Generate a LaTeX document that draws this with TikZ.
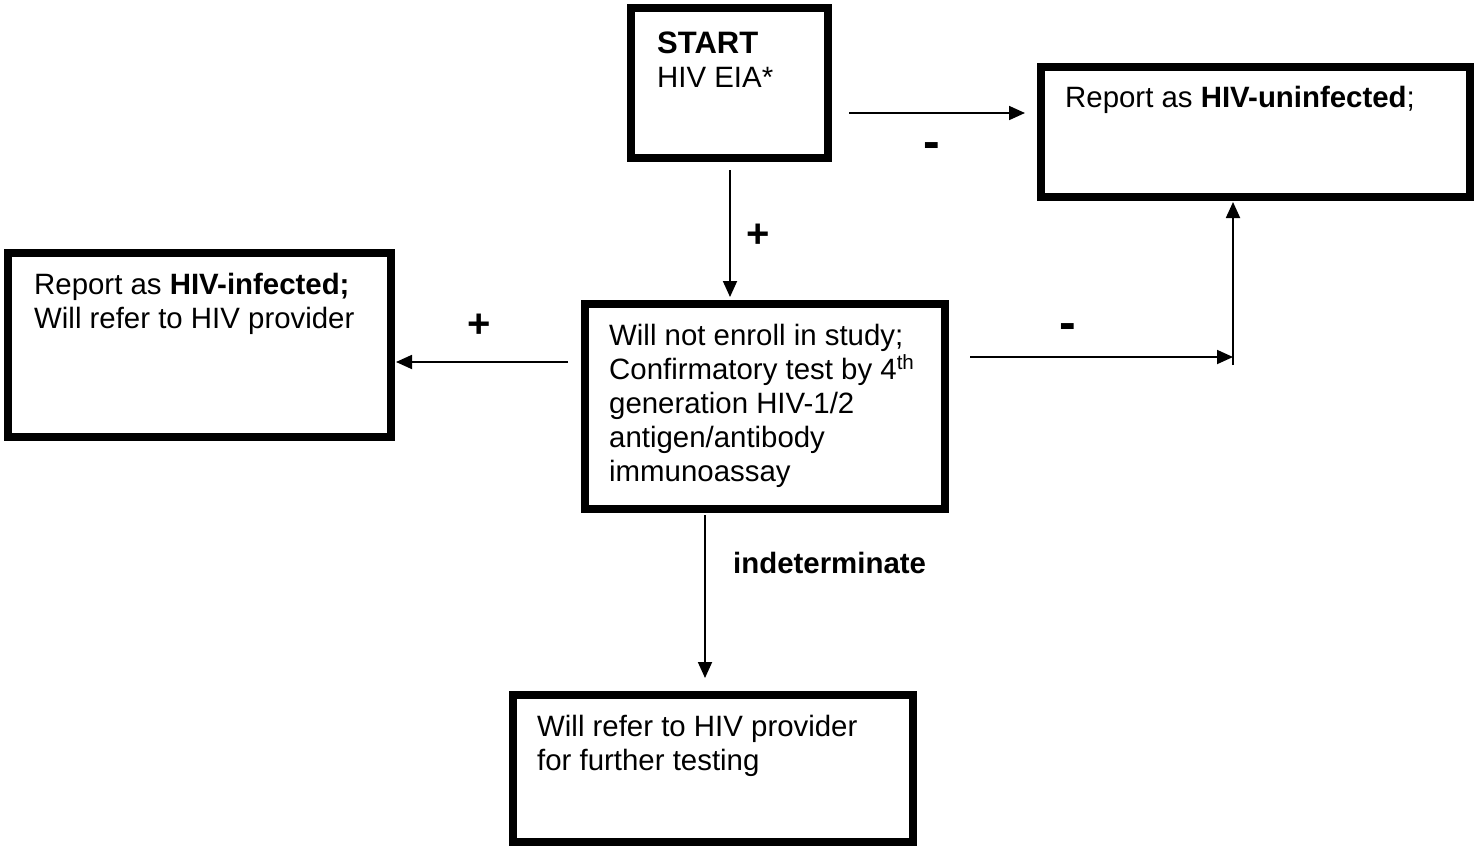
\documentclass[tikz,border=0pt]{standalone}
\usepackage{fontspec}
\setmainfont{Liberation Sans}
\usetikzlibrary{arrows.meta}
\begin{document}
\begin{tikzpicture}[x=1pt,y=-1pt,
  box/.style={draw,line width=7.5pt,rectangle,inner sep=0pt,outer sep=0pt},
  txt/.style={anchor=base west,inner sep=0pt,align=left,font=\fontsize{29.4}{34}\selectfont},
  lbl/.style={inner sep=0pt,font=\fontsize{29.4}{34}\selectfont\bfseries},
  sgn/.style={inner sep=0pt,font=\fontsize{40}{40}\selectfont\bfseries},
  arr/.style={line width=1.8pt,-{Triangle[length=16pt,width=14pt]}}]
\useasboundingbox (0,0) rectangle (1483,846);
% boxes
\node[box,minimum width=197pt,minimum height=150pt] (start) at (729.5,83) {};
\node[box,minimum width=429pt,minimum height=130pt] (unin) at (1255.5,132) {};
\node[box,minimum width=383pt,minimum height=184pt] (inf) at (199.5,345) {};
\node[box,minimum width=360pt,minimum height=205pt] (mid) at (765,406.5) {};
\node[box,minimum width=400pt,minimum height=147pt] (bot) at (713,768.5) {};
% texts (anchored at the baseline of their last line)
\node[txt] (tstart) at (657,87) {{\fontsize{31}{34}\selectfont\textbf{START}}\\HIV EIA*};
\node[txt] (tunin) at (1065,107) {Report as \textbf{HIV-uninfected};};
\node[txt] (tinf) at (34,328) {Report as \textbf{HIV-infected;}\\Will refer to HIV provider};
\node[txt] (tmid) at (609,481) {Will not enroll in study;\\Confirmatory test by 4\textsuperscript{th}\\generation HIV-1/2\\antigen/antibody\\immunoassay};
\node[txt] (tbot) at (537,770) {Will refer to HIV provider\\for further testing};
% connectors
\draw[arr] ([shift={(21,30)}]start.east) -- ([shift={(-16,-19)}]unin.west);
\draw[arr] ([shift={(0.5,12)}]start.south) -- ([shift={(-35,-7)}]mid.north);
\draw[arr] ([shift={(-17,-44.5)}]mid.west) -- ([shift={(5,17)}]inf.east);
\draw[arr] ([shift={(25,-49.5)}]mid.east) -- ([shift={(-22.5,160)}]unin.south);
\draw[arr] ([shift={(-22.5,168)}]unin.south) -- ([shift={(-22.5,5)}]unin.south);
\draw[arr] ([shift={(-60,6)}]mid.south) -- ([shift={(-8,-17)}]bot.north);
% labels
\node[sgn,font=\fontsize{50}{50}\selectfont\bfseries] (m1) at (932,151) {-};
\node[sgn] (p1) at (758,236) {+};
\node[sgn] (p2) at (479,326) {+};
\node[sgn,font=\fontsize{50}{50}\selectfont\bfseries] (m2) at (1068,332) {-};
\node[lbl,anchor=base west] (ind) at (733,573) {indeterminate};
\end{tikzpicture}
\end{document}
